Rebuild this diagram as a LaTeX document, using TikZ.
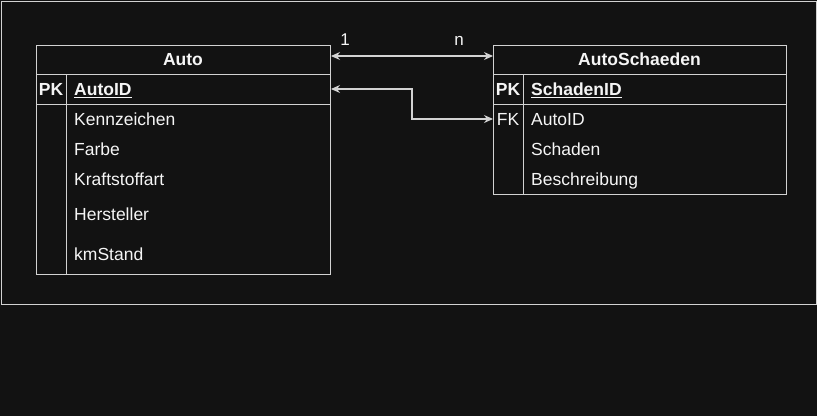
\documentclass[tikz,border=0pt]{standalone}
\usepackage{fontspec}
\setmainfont{Liberation Sans}
\usetikzlibrary{arrows.meta, positioning}
\definecolor{bgdark}{RGB}{18, 18, 18}
\definecolor{linegray}{RGB}{210, 210, 210}
\definecolor{textwhite}{RGB}{245, 245, 245}

\tikzset{
  tablebox/.style={draw=linegray, line width=1pt, anchor=north west, inner sep=0pt},
  tableline/.style={draw=linegray, line width=1pt},
  headtext/.style={text=textwhite, inner sep=0pt, text height=12.6pt, text depth=0pt, font=\fontsize{17.5}{20}\selectfont\bfseries},
  fieldtext/.style={text=textwhite, anchor=west, inner sep=0pt, text height=12.6pt, text depth=0pt, font=\fontsize{17.5}{20}\selectfont},
  keytext/.style={text=textwhite, inner sep=0pt, text height=12.6pt, text depth=0pt, font=\fontsize{17.5}{20}\selectfont},
  cardtext/.style={text=textwhite, inner sep=0pt, text height=12.6pt, text depth=0pt, font=\fontsize{17}{20}\selectfont},
  rel/.style={draw=linegray, line width=1.1pt, {Stealth[length=9pt, width=8pt]}-{Stealth[length=9pt, width=8pt]}}
}

\begin{document}
\begin{tikzpicture}[x=1pt, y=-1pt]
  \fill[bgdark] (0,0) rectangle (817,416);
  \useasboundingbox (0,0) rectangle (817,416);
  \draw[tableline] (1.5,1.5) rectangle (816,304);

  % table Auto
  \node[tablebox, minimum width=294pt, minimum height=229pt] (auto) at (36,45) {};
  \draw[tableline] (36,74) -- (330,74);
  \draw[tableline] (36,104) -- (330,104);
  \draw[tableline] (66,74) -- (66,274);
  \node[headtext] (autohead) at (183,59.5) {Auto};
  \node[keytext, font=\fontsize{17.5}{20}\selectfont\bfseries] (autopk) at (51,89) {PK};
  \node[fieldtext, font=\fontsize{17.5}{20}\selectfont\bfseries] (autoid) at (74,89) {\underline{AutoID}};
  \node[fieldtext] (kennzeichen) at (74,119) {Kennzeichen};
  \node[fieldtext] (farbe) at (74,149) {Farbe};
  \node[fieldtext] (kraftstoff) at (74,179) {Kraftstoffart};
  \node[fieldtext] (hersteller) at (74,214) {Hersteller};
  \node[fieldtext] (kmstand) at (74,254) {kmStand};

  % table AutoSchaeden
  \node[tablebox, minimum width=293pt, minimum height=149pt] (schaeden) at (493,45) {};
  \draw[tableline] (493,74) -- (786,74);
  \draw[tableline] (493,104) -- (786,104);
  \draw[tableline] (523,74) -- (523,194);
  \node[headtext] (schadenhead) at (639.5,59.5) {AutoSchaeden};
  \node[keytext, font=\fontsize{17.5}{20}\selectfont\bfseries] (schadenpk) at (508,89) {PK};
  \node[fieldtext, font=\fontsize{17.5}{20}\selectfont\bfseries] (schadenid) at (531,89) {\underline{SchadenID}};
  \node[keytext] (schadenfk) at (508,119) {FK};
  \node[fieldtext] (fkautoid) at (531,119) {AutoID};
  \node[fieldtext] (schaden) at (531,149) {Schaden};
  \node[fieldtext] (beschreibung) at (531,179) {Beschreibung};

  % relations
  \draw[rel] ([yshift=-11pt]auto.north east) -- ([yshift=-11pt]schaeden.north west);
  \node[cardtext] (cardone) at (345,39) {1};
  \node[cardtext] (cardn) at (459,39) {n};
  \draw[rel] (autoid.west -| auto.east) -- ++(81,0) |- (schadenfk.west -| schaeden.west);
\end{tikzpicture}
\end{document}
